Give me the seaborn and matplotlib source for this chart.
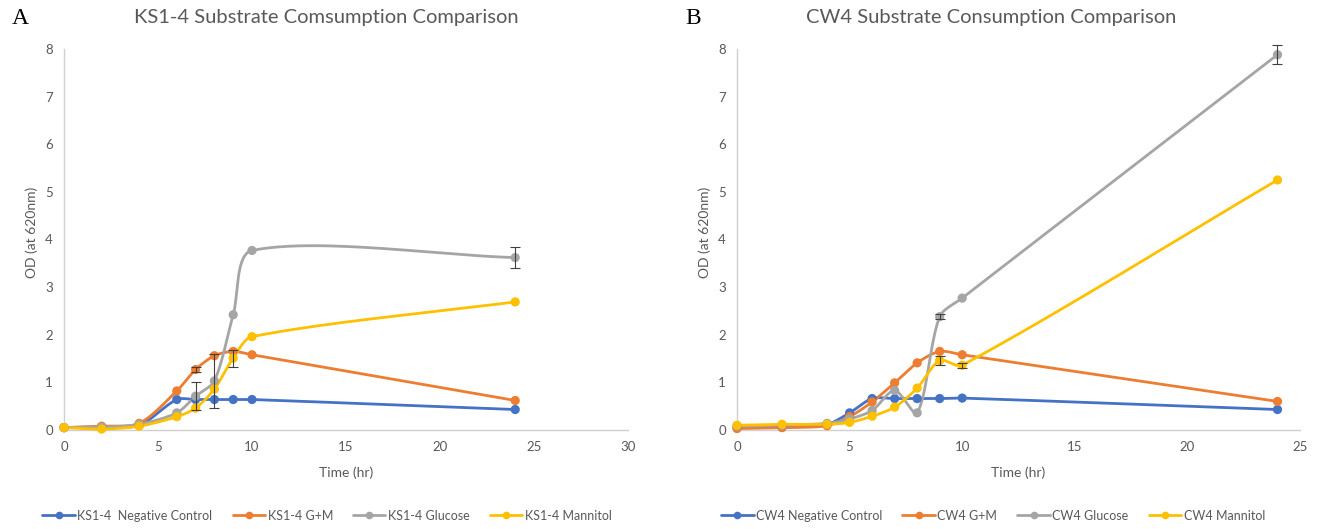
import numpy as np
import pandas as pd
import matplotlib
matplotlib.use("Agg")
import matplotlib.pyplot as plt
from matplotlib.lines import Line2D
import seaborn as sns

# ---- data: optical density (OD at 620 nm) over time ----
ks_time = [0, 2, 4, 6, 7, 8, 9, 10, 24]
ks_neg = [0.05, 0.07, 0.10, 0.64, 0.64, 0.64, 0.64, 0.64, 0.43]
ks_gm = [0.05, 0.08, 0.14, 0.82, 1.27, 1.56, 1.65, 1.58, 0.62]
ks_glc = [0.05, 0.06, 0.12, 0.36, 0.71, 1.03, 2.42, 3.77, 3.62]
ks_man = [0.05, 0.02, 0.08, 0.28, 0.46, 0.86, 1.51, 1.96, 2.69]
ks_neg_err = [0, 0, 0, 0, 0, 0, 0, 0, 0]
ks_gm_err = [0, 0, 0, 0, 0.05, 0, 0, 0, 0]
ks_glc_err = [0, 0, 0, 0, 0.30, 0.57, 0, 0, 0.22]
ks_man_err = [0, 0, 0, 0, 0, 0, 0.18, 0, 0]

cw_time = [0, 2, 4, 5, 6, 7, 8, 9, 10, 24]
cw_neg = [0.05, 0.06, 0.12, 0.36, 0.66, 0.66, 0.66, 0.66, 0.67, 0.43]
cw_gm = [0.03, 0.05, 0.09, 0.28, 0.59, 0.99, 1.41, 1.65, 1.58, 0.60]
cw_glc = [0.08, 0.10, 0.14, 0.23, 0.41, 0.83, 0.36, 2.38, 2.77, 7.88]
cw_man = [0.10, 0.12, 0.12, 0.16, 0.29, 0.48, 0.88, 1.46, 1.36, 5.25]
cw_neg_err = [0] * 10
cw_gm_err = [0] * 10
cw_glc_err = [0, 0, 0, 0, 0, 0, 0, 0.05, 0, 0.20]
cw_man_err = [0, 0, 0, 0, 0, 0, 0, 0.10, 0.05, 0]

treatments = ["Negative Control", "G+M", "Glucose", "Mannitol"]
colors = ["#4472C4", "#ED7D31", "#A5A5A5", "#FFC000"]

sns.set_theme(style="white")
plt.rcParams["font.family"] = ["Lato", "DejaVu Sans"]

TXT = "#595959"
AXC = "#D0D0D0"
TENSION = 0.29


def smooth_curve(x, y, sx, sy, n=50):
    """Chord-weighted cardinal Bezier smoothing, computed in pixel-like units."""
    p = np.column_stack([np.asarray(x, float) * sx, np.asarray(y, float) * sy])
    out = []
    t = np.linspace(0, 1, n)[:, None]
    for i in range(len(p) - 1):
        p0 = p[i - 1] if i > 0 else p[i]
        p1, p2 = p[i], p[i + 1]
        p3 = p[i + 2] if i + 2 < len(p) else p[i + 1]
        d01 = np.linalg.norm(p1 - p0)
        d12 = np.linalg.norm(p2 - p1)
        d23 = np.linalg.norm(p3 - p2)
        f1 = d12 / (d01 + d12) if d01 + d12 > 0 else 0
        f2 = d12 / (d12 + d23) if d12 + d23 > 0 else 0
        c1 = p1 + (p2 - p0) * f1 * TENSION
        c2 = p2 - (p3 - p1) * f2 * TENSION
        seg = ((1 - t) ** 3) * p1 + 3 * ((1 - t) ** 2) * t * c1 + 3 * (1 - t) * t ** 2 * c2 + t ** 3 * p2
        out.append(seg if i == 0 else seg[1:])
    out = np.vstack(out)
    return out[:, 0] / sx, out[:, 1] / sy


def draw_panel(ax, time, series, errs, prefix, xmax, title, letter, title_x, letter_x, ylab_x, legend_x):
    ax_w_px = ax.get_position().width * fig.get_figwidth() * fig.dpi
    ax_h_px = ax.get_position().height * fig.get_figheight() * fig.dpi
    sx = ax_w_px / xmax
    sy = ax_h_px / 8.0

    sep = "  " if prefix == "KS1-4" else " "
    names = [f"{prefix}{sep if t == 'Negative Control' else ' '}{t}" for t in treatments]

    curve_frames = []
    point_frames = []
    for name, vals in zip(names, series):
        cx, cy = smooth_curve(time, vals, sx, sy)
        curve_frames.append(pd.DataFrame({"time": cx, "od": cy, "series": name}))
        point_frames.append(pd.DataFrame({"time": time, "od": vals, "series": name}))
    curves = pd.concat(curve_frames, ignore_index=True)
    points = pd.concat(point_frames, ignore_index=True)
    palette = dict(zip(names, colors))

    sns.lineplot(data=curves, x="time", y="od", hue="series", palette=palette, sort=False,
                 estimator=None, units="series", lw=2.0, legend=False, ax=ax, zorder=3)
    sns.scatterplot(data=points, x="time", y="od", hue="series", palette=palette, s=44,
                    edgecolor="none", legend=False, ax=ax, zorder=4)

    for vals, e in zip(series, errs):
        e = np.asarray(e, float)
        m = e > 0
        if m.any():
            ax.errorbar(np.asarray(time)[m], np.asarray(vals)[m], yerr=e[m], fmt="none",
                        ecolor="#404040", elinewidth=0.8, capsize=3.5, capthick=0.8, zorder=5)

    ax.set_xlim(0, xmax)
    ax.set_ylim(0, 8)
    ax.set_xticks(np.arange(0, xmax + 1, 5))
    ax.set_yticks(np.arange(0, 9, 1))
    ax.tick_params(axis="both", length=0, labelsize=9.5, colors=TXT, pad=8)
    ax.set_xlabel("")
    ax.set_ylabel("")
    for s in ["top", "right"]:
        ax.spines[s].set_visible(False)
    for s in ["left", "bottom"]:
        ax.spines[s].set_color(AXC)
        ax.spines[s].set_linewidth(1.0)
    for coll in ax.collections:
        coll.set_clip_on(False)
    for ln in ax.lines:
        ln.set_clip_on(False)

    pos = ax.get_position()
    fig.text(title_x, 0.967, title, ha="center", va="center", fontsize=14.5, color=TXT)
    fig.text(letter_x, 0.965, letter, ha="center", va="center", fontsize=17,
             family=["Liberation Serif", "DejaVu Serif"], color="black")
    fig.text(ylab_x, 0.5614, "OD (at 620nm)", rotation=90, ha="center", va="center", fontsize=10, color=TXT)
    fig.text(pos.x0 + pos.width / 2, 0.106, "Time (hr)", ha="center", va="center", fontsize=10, color=TXT)

    handles = [Line2D([0], [0], color=c, lw=2.0, marker="o", markersize=5.5, markeredgewidth=0) for c in colors]
    fig.legend(handles, names, loc="center", bbox_to_anchor=(legend_x, 0.025), ncol=4, frameon=False,
               fontsize=9, handlelength=2.6, handletextpad=0.2, columnspacing=1.6, labelcolor=TXT)


fig = plt.figure(figsize=(13.24, 5.29), dpi=100)
ax1 = fig.add_axes([0.04834, 0.18715, 0.42598, 0.72022])
ax2 = fig.add_axes([0.55665, 0.18715, 0.42523, 0.72022])

draw_panel(ax1, ks_time, [ks_neg, ks_gm, ks_glc, ks_man], [ks_neg_err, ks_gm_err, ks_glc_err, ks_man_err],
           "KS1-4", 30, "KS1-4 Substrate Comsumption Comparison", "A", 0.2462, 0.0151, 0.0242, 0.247)
draw_panel(ax2, cw_time, [cw_neg, cw_gm, cw_glc, cw_man], [cw_neg_err, cw_gm_err, cw_glc_err, cw_man_err],
           "CW4", 25, "CW4 Substrate Consumption Comparison", "B", 0.7485, 0.5234, 0.5325, 0.75)

fig.savefig("out.png", dpi=100, facecolor="white")
